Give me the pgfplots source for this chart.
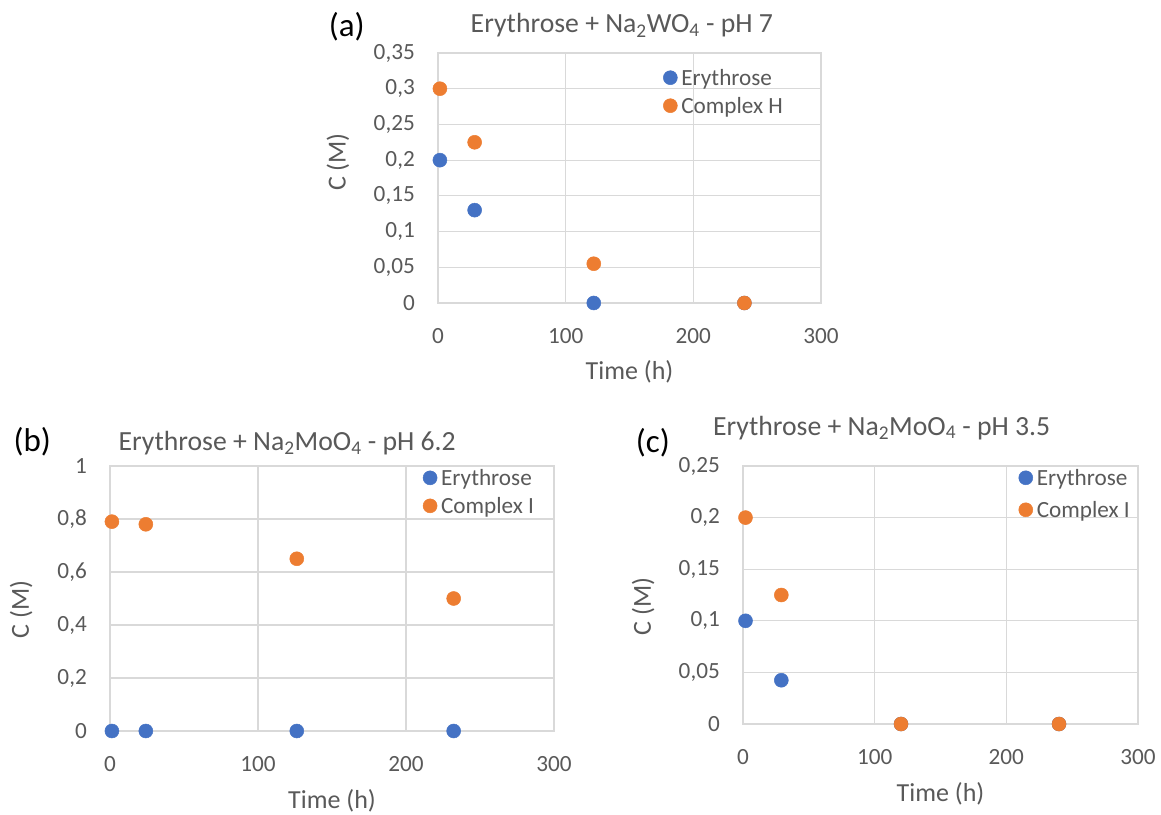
\documentclass[border=0pt]{standalone}
\usepackage{fontspec}
\setmainfont{Carlito}
\usepackage{pgfplots}
\pgfplotsset{compat=1.18}

\definecolor{exblue}{HTML}{4472C4}
\definecolor{exorange}{HTML}{ED7D31}
\definecolor{txtgray}{HTML}{595959}
\definecolor{gridgray}{HTML}{D9D9D9}

\newcommand\fs[1]{\fontsize{#1}{#1}\selectfont}

\tikzset{
  paneltitle/.style={font=\fs{27.7}, text=txtgray, anchor=base},
  panelletter/.style={font=\fs{33}, text=black, anchor=base},
}

\pgfplotsset{
  kinetics/.style={
    scale only axis, clip=false,
    xmin=0, xmax=300, xtick={0,100,200,300},
    ymin=0,
    grid=major,
    major grid style={draw=gridgray, line width=1.1pt},
    axis line style={draw=gridgray, line width=1.1pt},
    major tick length=0pt,
    tick label style={text=txtgray, inner sep=0pt, font=\fs{23.2}},
    xticklabel style={anchor=north, yshift=-25pt},
    yticklabel style={anchor=east, xshift=-23pt},
    /pgf/number format/use comma,
    /pgf/number format/fixed,
    /pgf/number format/precision=2,
    /pgf/number format/assume math mode=true,
    xlabel={Time (h)},
    xlabel style={text=txtgray, font=\fs{26}, at={(axis description cs:0.5,0)}, anchor=base, yshift=-77pt},
    ylabel={C (M)},
    ylabel style={text=txtgray, font=\fs{26}, anchor=center},
    legend style={draw=none, fill=none, text=txtgray, font=\fs{23.2},
      anchor=north west, column sep=4pt, row sep=8pt,
      nodes={inner sep=0pt, text height=15pt, text depth=5pt}},
    legend cell align=left,
    legend image code/.code={\draw[##1, mark size=7pt] plot coordinates {(0pt,3pt)};},
  },
  ery/.style={only marks, mark=*, color=exblue, mark size=7pt,
    mark options={fill=exblue, draw=exblue, line width=0.5pt}},
  cpx/.style={only marks, mark=*, color=exorange, mark size=7pt,
    mark options={fill=exorange, draw=exorange, line width=0.5pt}},
}

\begin{document}
\begin{tikzpicture}
\useasboundingbox (0pt,0pt) rectangle (1161pt,814pt);

% (a) Erythrose + Na2WO4, pH 7
\begin{axis}[kinetics,
  at={(438pt,511pt)}, anchor=south west,
  width=383pt, height=250pt,
  ymax=0.35, ytick={0,0.05,0.1,0.15,0.2,0.25,0.3,0.35},
  ylabel style={at={(axis description cs:-0.261,0.564)}},
  legend style={at={(axis description cs:0.58,0.938)}},
]
\addplot[ery] coordinates {(1.5,0.2) (28.7,0.13) (122,0) (240,0)};
\addplot[cpx] coordinates {(1.5,0.3) (28.7,0.225) (122,0.055) (240,0)};
\legend{Erythrose, Complex H}
\node[paneltitle] at (axis description cs:0.48,1.08)
  {Erythrose + Na\textsubscript{2}WO\textsubscript{4} - pH 7};
\node[panelletter] at (axis description cs:-0.238,1.064) {(a)};
\end{axis}

% (b) Erythrose + Na2MoO4, pH 6.2
\begin{axis}[kinetics,
  at={(110pt,83pt)}, anchor=south west,
  width=444pt, height=265pt,
  ymax=1, ytick={0,0.2,0.4,0.6,0.8,1},
  ylabel style={at={(axis description cs:-0.2,0.458)}},
  legend style={at={(axis description cs:0.698,0.99)}},
]
\addplot[ery] coordinates {(1.3,0) (24.2,0) (126.2,0) (232.2,0)};
\addplot[cpx] coordinates {(1.3,0.79) (24.2,0.78) (126.2,0.65) (232.2,0.5)};
\legend{Erythrose, Complex I}
\node[paneltitle] at (axis description cs:0.399,1.057)
  {Erythrose + Na\textsubscript{2}MoO\textsubscript{4} - pH 6.2};
\node[panelletter] at (axis description cs:-0.175,1.053) {(b)};
\end{axis}

% (c) Erythrose + Na2MoO4, pH 3.5
\begin{axis}[kinetics,
  at={(743pt,90pt)}, anchor=south west,
  width=395pt, height=258pt,
  ymax=0.25, ytick={0,0.05,0.1,0.15,0.2,0.25},
  ylabel style={at={(axis description cs:-0.253,0.456)}},
  legend style={at={(axis description cs:0.69,0.99)}, row sep=12pt},
]
\addplot[ery] coordinates {(1.9,0.1) (29.1,0.0424) (120,0) (240,0)};
\addplot[cpx] coordinates {(1.9,0.2) (29.1,0.125) (120,0) (240,0)};
\legend{Erythrose, Complex I}
\node[paneltitle] at (axis description cs:0.351,1.12)
  {Erythrose + Na\textsubscript{2}MoO\textsubscript{4} - pH 3.5};
\node[panelletter] at (axis description cs:-0.228,1.054) {(c)};
\end{axis}
\end{tikzpicture}
\end{document}
